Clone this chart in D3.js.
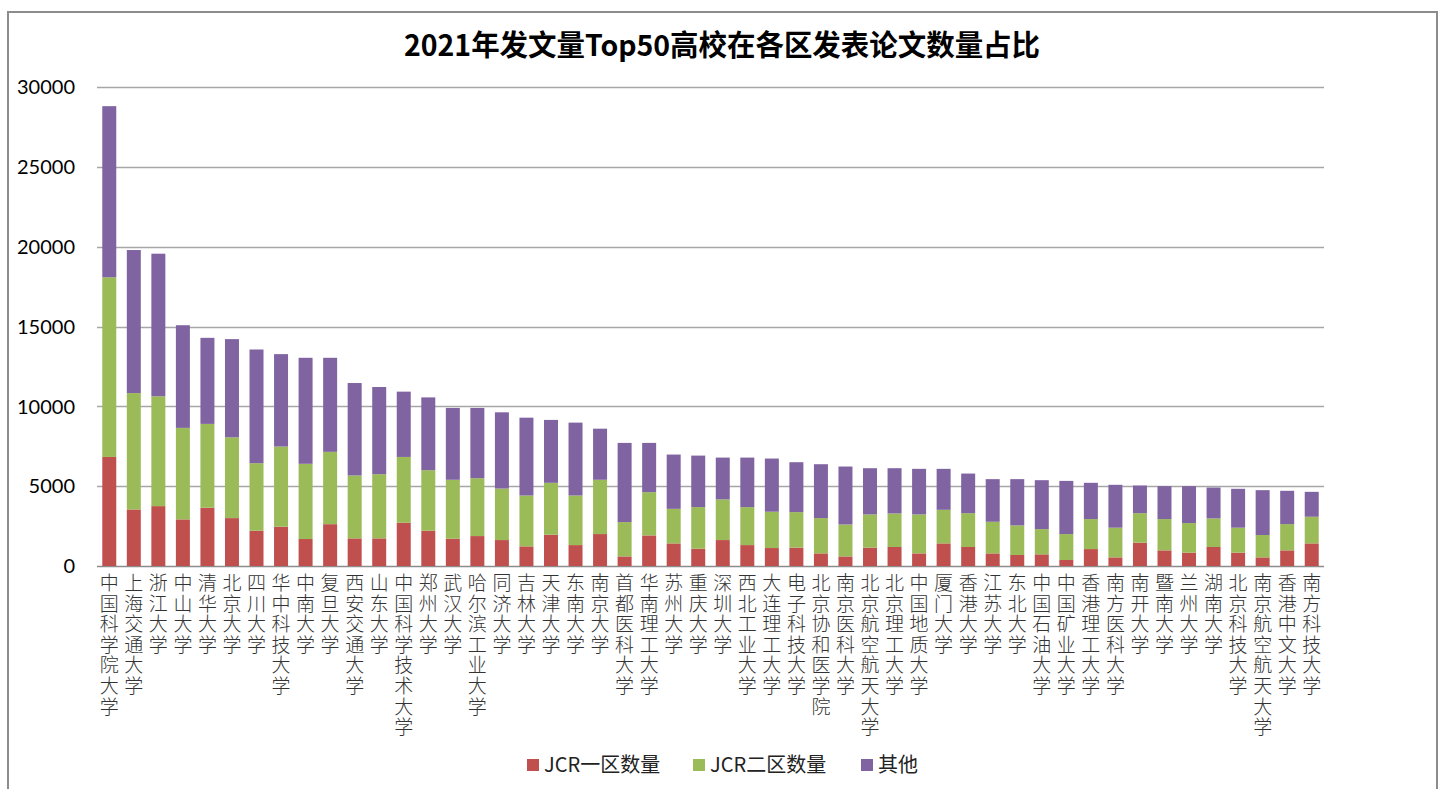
<!DOCTYPE html>
<html>
<head>
<meta charset="utf-8">
<script src="https://cdn.jsdelivr.net/npm/d3@7.9.0/dist/d3.min.js"></script>
<style>
  body { margin: 0; background: #fff; }
  svg { display: block; }
</style>
</head>
<body>
<svg id="chart" width="1444" height="789"></svg>
<script>
const schools = ['中国科学院大学','上海交通大学','浙江大学','中山大学','清华大学','北京大学','四川大学','华中科技大学','中南大学','复旦大学',
  '西安交通大学','山东大学','中国科学技术大学','郑州大学','武汉大学','哈尔滨工业大学','同济大学','吉林大学','天津大学','东南大学',
  '南京大学','首都医科大学','华南理工大学','苏州大学','重庆大学','深圳大学','西北工业大学','大连理工大学','电子科技大学','北京协和医学院',
  '南京医科大学','北京航空航天大学','北京理工大学','中国地质大学','厦门大学','香港大学','江苏大学','东北大学','中国石油大学','中国矿业大学',
  '香港理工大学','南方医科大学','南开大学','暨南大学','兰州大学','湖南大学','北京科技大学','南京航空航天大学','香港中文大学','南方科技大学'];

// cumulative tops
const q1 = [6830,3540,3750,2920,3650,3000,2210,2460,1690,2620,
  1730,1730,2710,2210,1710,1875,1625,1230,1960,1310,
  2000,600,1915,1415,1085,1625,1310,1125,1150,790,
  600,1150,1190,790,1415,1190,790,690,730,375,
  1060,540,1460,980,835,1190,835,540,980,1415];
const q2Top = [18080,10830,10630,8650,8900,8060,6440,7480,6400,7150,
  5670,5750,6830,6000,5400,5500,4850,4415,5210,4415,
  5400,2750,4625,3580,3690,4170,3690,3400,3375,3000,
  2600,3230,3290,3230,3520,3310,2770,2540,2310,2000,
  2940,2400,3310,2940,2690,2980,2400,1940,2625,3085];
const total = [28800,19790,19560,15080,14290,14210,13560,13270,13040,13040,
  11460,11210,10920,10560,9900,9900,9625,9290,9150,8980,
  8600,7710,7710,6980,6915,6790,6790,6730,6500,6375,
  6230,6125,6125,6085,6085,5790,5440,5440,5375,5330,
  5210,5085,5040,5000,5000,4915,4835,4750,4710,4645];

const seriesNames = ['JCR一区数量','JCR二区数量','其他'];
const seriesColors = ['#C0504D','#9BBB59','#8064A2'];
const yTicks = [0,5000,10000,15000,20000,25000,30000];

const rows = schools.map((s, i) => ({
  name: s,
  'JCR一区数量': q1[i],
  'JCR二区数量': q2Top[i] - q1[i],
  '其他': total[i] - q2Top[i]
}));

const svg = d3.select('#chart');

// outer frame
svg.append('rect')
  .attr('x', 8).attr('y', 12).attr('width', 1429).attr('height', 800)
  .attr('fill', 'none').attr('stroke', '#8c8c8c').attr('stroke-width', 2);

const x = d3.scaleBand().domain(schools).range([97, 1324])
  .paddingInner(0.43).paddingOuter(0.215);
const y = d3.scaleLinear().domain([0, 30000]).range([566, 87]);

// gridlines
svg.append('g').selectAll('line').data(yTicks).join('line')
  .attr('x1', 97).attr('x2', 1324)
  .attr('y1', d => Math.round(y(d)) + 0.5).attr('y2', d => Math.round(y(d)) + 0.5)
  .attr('stroke', d => d === 0 ? '#8c8c8c' : '#a6a6a6').attr('stroke-width', 1.3);

// y tick labels
svg.append('g').selectAll('text').data(yTicks).join('text')
  .attr('x', 75).attr('y', d => y(d))
  .attr('dy', '0.36em')
  .attr('text-anchor', 'end')
  .attr('font-family', 'Lato, "Open Sans", sans-serif')
  .attr('font-size', 20)
  .attr('fill', '#000')
  .text(d => d);

// stacked bars
const stack = d3.stack().keys(seriesNames)(rows);
svg.append('g').selectAll('g').data(stack).join('g')
  .attr('fill', (d, i) => seriesColors[i])
  .selectAll('rect').data(d => d).join('rect')
  .attr('x', d => x(d.data.name))
  .attr('width', x.bandwidth())
  .attr('y', d => y(d[1]))
  .attr('height', d => y(d[0]) - y(d[1]));

// category labels, one character per line
const labels = svg.append('g')
  .attr('font-family', '"Noto Sans CJK SC", sans-serif')
  .attr('font-size', 19)
  .attr('font-weight', 300)
  .attr('fill', '#333');
schools.forEach(s => {
  const t = labels.append('text')
    .attr('text-anchor', 'middle');
  Array.from(s).forEach((ch, k) => {
    t.append('tspan')
      .attr('x', x(s) + x.bandwidth() / 2)
      .attr('y', 590 + k * 20.6)
      .text(ch);
  });
});

// title
svg.append('text')
  .attr('x', 722).attr('y', 56)
  .attr('text-anchor', 'middle')
  .attr('font-family', '"Noto Sans CJK SC", sans-serif')
  .attr('font-weight', 'bold')
  .attr('font-size', 29)
  .attr('textLength', 636)
  .attr('lengthAdjust', 'spacingAndGlyphs')
  .attr('fill', '#000')
  .text('2021年发文量Top50高校在各区发表论文数量占比');

// legend
const legendX = [527, 693, 861];
const lg = svg.append('g').selectAll('g').data(seriesNames).join('g')
  .attr('transform', (d, i) => `translate(${legendX[i]},765)`);
lg.append('rect')
  .attr('x', 0).attr('y', -6).attr('width', 12).attr('height', 12)
  .attr('fill', (d, i) => seriesColors[i]);
lg.append('text')
  .attr('x', 17).attr('y', 0).attr('dy', '0.36em')
  .attr('font-family', '"Noto Sans CJK SC", sans-serif')
  .attr('font-size', 20)
  .attr('fill', '#222')
  .text(d => d);
</script>
</body>
</html>
